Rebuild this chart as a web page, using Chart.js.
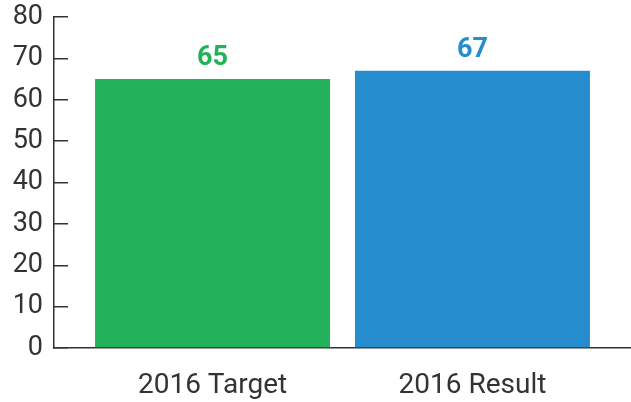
<!DOCTYPE html>
<html>
<head>
<meta charset="utf-8">
<script src="https://cdn.jsdelivr.net/npm/chart.js@4"></script>
<style>
  html, body { margin: 0; padding: 0; background: #fff; }
  #wrap { width: 631px; height: 402px; }
</style>
</head>
<body>
<div id="wrap"><canvas id="c" width="631" height="402"></canvas></div>
<script>
const categories = ['2016 Target', '2016 Result'];
const values = [65, 67];
const barColors = ['#23b25a', '#258dcd'];
const yTicks = [0, 10, 20, 30, 40, 50, 60, 70, 80];

const positions = categories.map((_, i) => i);

const valueLabels = {
  id: 'valueLabels',
  afterDatasetsDraw(chart) {
    const ctx = chart.ctx;
    const meta = chart.getDatasetMeta(0);
    ctx.save();
    ctx.font = 'bold 27px Roboto';
    ctx.textAlign = 'center';
    ctx.textBaseline = 'alphabetic';
    meta.data.forEach((bar, i) => {
      ctx.fillStyle = barColors[i];
      ctx.fillText(String(values[i]), bar.x, bar.y - 14);
    });
    ctx.restore();
  }
};

new Chart(document.getElementById('c'), {
  type: 'bar',
  data: {
    datasets: [{
      data: positions.map((p, i) => ({ x: p, y: values[i] })),
      backgroundColor: barColors,
      borderWidth: 0,
      categoryPercentage: 1,
      barPercentage: 0.904
    }]
  },
  options: {
    responsive: false,
    animation: false,
    layout: { padding: 0 },
    plugins: { legend: { display: false }, tooltip: { enabled: false } },
    scales: {
      x: {
        type: 'linear',
        offset: false,
        min: -0.61,
        max: 1.61,
        afterBuildTicks(scale) { scale.ticks = positions.map(v => ({ value: v })); },
        afterFit(scale) { scale.height = 54; },
        grid: { display: false, drawTicks: false, offset: false },
        border: { display: true, color: '#333', width: 1.5 },
        ticks: {
          padding: 21,
          maxRotation: 0,
          autoSkip: false,
          color: '#333',
          font: { family: 'Roboto', size: 28 },
          callback: (v) => categories[v] ?? ''
        }
      },
      y: {
        min: 0,
        max: 80,
        afterBuildTicks(scale) { scale.ticks = yTicks.map(v => ({ value: v })); },
        afterFit(scale) { scale.width = 54; scale.paddingTop = 17; scale.paddingBottom = 0; },
        grid: { drawOnChartArea: false, drawTicks: true, tickLength: -14, color: '#333', lineWidth: 1.5 },
        border: { display: true, color: '#333', width: 1.5 },
        ticks: {
          padding: 25,
          autoSkip: false,
          color: '#333',
          font: { family: 'Roboto', size: 27 }
        }
      }
    }
  },
  plugins: [valueLabels]
});
</script>
</body>
</html>
